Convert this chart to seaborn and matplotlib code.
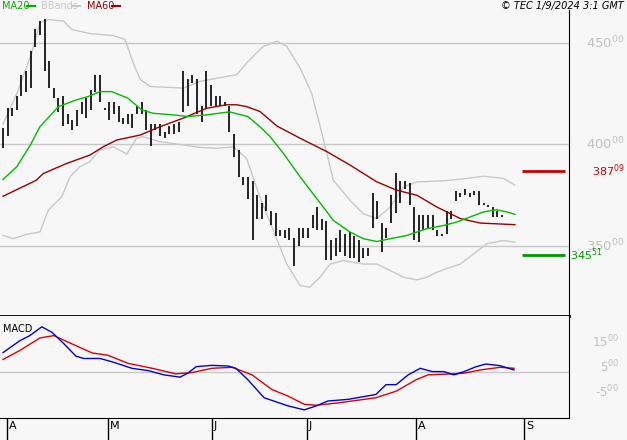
import numpy as np
import pandas as pd
import matplotlib
matplotlib.use("Agg")
import matplotlib.pyplot as plt
import seaborn as sns

# ---- price bars (high, low) one per trading day ----
highs = [408,418,418,424,434,436,446,457,461,462,441,428,423,424,415,412,417,421,423,427,434,434,418,421,421,419,413,415,415,419,421,417,410,410,410,406,409,410,411,436,432,434,432,419,436,429,424,424,421,419,405,397,384,384,382,
         375,371,375,367,366,358,358,359,354,359,359,359,365,369,363,362,353,354,358,356,357,355,353,349,349,376,372,361,359,375,386,382,382,381,369,365,365,365,365,358,356,367,367,377,376,378,376,377,377,371,370,369,367,365]
lows = [398,404,414,417,424,426,428,448,454,436,428,423,416,409,410,407,409,415,413,417,426,421,417,412,415,411,410,410,408,415,415,407,399,407,404,403,405,405,406,416,419,430,415,411,418,419,419,419,419,406,394,384,380,373,353,
        363,363,367,360,355,355,354,353,340,350,354,354,359,358,358,343,343,345,347,345,344,344,342,344,345,359,363,347,354,361,366,371,378,370,353,352,358,359,358,355,355,356,363,372,374,375,374,375,370,370,369,364,364,364]

# ---- indicator lines, (bar position, value) ----
ma20_pos = [0,3,6,8,12,16,18.5,21,23.5,27,30,32.5,37,40,44,49,53,55.6,57.8,60.7,64.3,67.9,71.5,75.1,78,80.9,83.8,87.4,91.7,95.3,98.2,101.1,104,106.8,109,110.8]
ma20_val = [382.7,389,400,408.7,418.6,422,423.6,426,426,422.8,417,415.3,414.5,413.7,414.5,416,413.7,408.7,403.8,395.5,384,373.3,362.5,356.8,353.5,352.1,353.5,355.1,358.4,360,361.7,364.2,366.7,367.8,366.7,365.5]
ma60_pos = [0,7.2,8.7,13.8,18.8,21.7,24.6,29.7,34,39,44.1,48.4,50.6,52.7,55.6,59.3,64.3,70.1,75.1,80.9,85.2,89.6,93.9,99,103.3,110.8]
ma60_val = [374.4,382.3,385.6,390.6,394.7,398.8,402.1,404.6,408.7,412.9,417.8,419.5,419.5,418.6,416.2,409,403,396.4,389.8,381.5,377.4,374.9,369.1,363.4,361.2,360.4]
bbu_pos = [0,3,6.2,8,9.8,13.1,14.9,18.8,23.9,26.4,28.2,29.7,31.8,39,42.6,46.3,50.6,52.7,55.6,56.4,59.3,61.4,64.3,66.8,69.4,71.5,75.1,78,80.9,83.8,86.7,89.6,95.3,100.4,104,108.3,110.8]
bbu_val = [410,425,445,460,461.5,460.7,456.6,454.6,453.6,451.7,440,432,428.5,427.7,431,432.6,434.3,440,446.7,448.3,450.8,448.3,437.6,425.2,402,382.3,372.4,365.8,363.4,369.1,379,381.5,382,383.2,384.3,383.2,379.9]
bbl_pos = [0,2.2,5,8,9.8,12.7,14.5,16.6,18.8,20.9,23.9,26.8,28.9,30.3,33.9,39,42.6,46.3,49.9,52.7,55.6,58.5,61.4,64.3,66.4,68.6,70.8,73.6,78,80.9,83.8,86.7,89.6,91.7,93.9,96.8,99,101.8,104.7,108.3,110.8]
bbl_val = [355.1,353.5,355.6,356.8,367.5,374.1,384,388.9,391.4,397.2,398.8,395.2,403,403.8,401.3,399.7,398.5,398,398.8,393.1,374.1,357.6,341,330.4,329.6,334.5,341,342.7,341,341,337.8,334.5,333.2,334.5,337,339.4,341,345.9,351,352.6,351.8]

# ---- MACD ----
macd_pos = [0,3.7,5.8,8.4,10.6,13.2,15.8,17.5,21,23.6,27.9,31.4,34.8,38.3,40,41.8,45.2,48.7,50.4,53,56.5,61.7,65.2,67.8,70.3,74.7,80.7,82.9,85.1,87.7,90.3,92.9,95.4,97.6,99.8,102.4,104.5,107.6,110.6]
macd_val = [787,1280,1480,1840,1613,1147,640,547,547,413,147,53,-120,-213,-53,213,267,240,147,-320,-1053,-1387,-1547,-1387,-1187,-1120,-920,-520,-520,-120,147,13,13,-120,13,213,320,253,80]
sig_pos = [0,3.7,8,11,14.1,19.3,22.7,27.1,32.3,37.4,40.9,45.2,49.6,53.9,58.2,61.7,65.2,67.8,73,80.7,85.1,89.4,92,97.2,99.8,103.3,107.6,110.6]
sig_val = [507,880,1387,1480,1213,773,680,347,147,-80,-27,147,187,-120,-720,-987,-1320,-1360,-1253,-1053,-787,-320,-120,-80,-53,80,187,147]

month_labels = ["A", "M", "J", "J", "A", "S"]
month_pos = [0.9, 22.7, 45.2, 65.8, 89.4, 112.8]
price_ticks = [350, 400, 450]
macd_ticks = [1500, 500, -500]
ref_red = 387.09
ref_green = 345.51

bg = "#f7f7f7"
grid = "#c8c8c8"
fig = plt.figure(figsize=(6.27, 4.40), dpi=100, facecolor=bg)
W, H = 627, 440
def rect(x0, y0, x1, y1):
    return [x0 / W, 1 - y1 / H, (x1 - x0) / W, (y1 - y0) / H]

ax = fig.add_axes(rect(0, 10, 569, 316), facecolor=bg)
ax2 = fig.add_axes(rect(0, 316, 569, 418), facecolor=bg)
xl = (-0.65, 122.5)

idx = np.arange(len(highs))
for y in price_ticks:
    ax.axhline(y, color=grid, lw=1, zorder=0)
sns.lineplot(x=bbu_pos, y=bbu_val, ax=ax, color="#c8c8c8", lw=1, zorder=1)
sns.lineplot(x=bbl_pos, y=bbl_val, ax=ax, color="#c8c8c8", lw=1, zorder=1)
ax.vlines(idx, lows, highs, color="black", lw=1.2, zorder=2)
sns.lineplot(x=ma60_pos, y=ma60_val, ax=ax, color="#990000", lw=1, zorder=3)
sns.lineplot(x=ma20_pos, y=ma20_val, ax=ax, color="#00bb00", lw=1, zorder=3)
ax.hlines(ref_red, 112.3, 121.6, color="#cc0000", lw=2)
ax.hlines(ref_green, 112.3, 121.6, color="#009900", lw=2)
ax.set_xlim(*xl)
ax.set_ylim(315.4, 466.2)
ax.set_xticks([]); ax.set_yticks([])
for s in ["top", "left"]:
    ax.spines[s].set_visible(False)
ax.spines["right"].set_color("black")
ax.spines["bottom"].set_linewidth(2)

tr = ax.get_yaxis_transform()
for y in price_ticks:
    ax.text(1.03, y, f"{y}$^{{00}}$", transform=tr, color="#c0c0c0", fontsize=9.5, va="center", ha="left")
ax.text(1.04, ref_red, "387$^{09}$", transform=tr, color="#cc0000", fontsize=8, va="center")
ax.text(1.002, ref_green, "345$^{51}$", transform=tr, color="#009900", fontsize=8, va="center")

ax2.axhline(0, color=grid, lw=1, zorder=0)
sns.lineplot(x=sig_pos, y=sig_val, ax=ax2, color="#dd0000", lw=1)
sns.lineplot(x=macd_pos, y=macd_val, ax=ax2, color="#0000dd", lw=1)
ax2.set_xlim(*xl)
ax2.set_ylim(-1880, 2280)
ax2.set_yticks([])
ax2.set_xticks(month_pos)
ax2.set_xticklabels([])
ax2.tick_params(axis="x", length=20, direction="out", width=1)
for p, l in zip(month_pos, month_labels):
    ax2.text(p + 0.4, -0.03, l, transform=ax2.get_xaxis_transform(), fontsize=8, va="top", ha="left")
ax2.spines["left"].set_visible(False)
ax2.spines["top"].set_visible(False)
ax2.text(0.005, 0.92, "MACD", transform=ax2.transAxes, fontsize=7, va="top")
tr2 = ax2.get_yaxis_transform()
for y in macd_ticks:
    s = str(y)
    ax2.text(1.088, y - 300, s[:-2] + f"$^{{{s[-2:]}}}$",
             transform=tr2, color="#c0c0c0", fontsize=8.5, va="center", ha="right")

fig.text(2 / W, 1 - 6 / H, "MA20", color="#00aa00", fontsize=7, va="center")
fig.add_artist(plt.Line2D([27 / W, 35 / W], [1 - 6 / H] * 2, color="#00aa00", lw=1.5))
fig.text(41 / W, 1 - 6 / H, "BBands", color="#c8c8c8", fontsize=7, va="center")
fig.add_artist(plt.Line2D([72 / W, 80 / W], [1 - 6 / H] * 2, color="#c8c8c8", lw=1.5))
fig.text(87 / W, 1 - 6 / H, "MA60", color="#990000", fontsize=7, va="center")
fig.add_artist(plt.Line2D([112 / W, 120 / W], [1 - 6 / H] * 2, color="#990000", lw=1.5))
fig.text(624 / W, 1 - 6 / H, "© TEC 1/9/2024 3:1 GMT", fontsize=7, style="italic", va="center", ha="right")

fig.savefig("out.png", dpi=100, facecolor=bg)
